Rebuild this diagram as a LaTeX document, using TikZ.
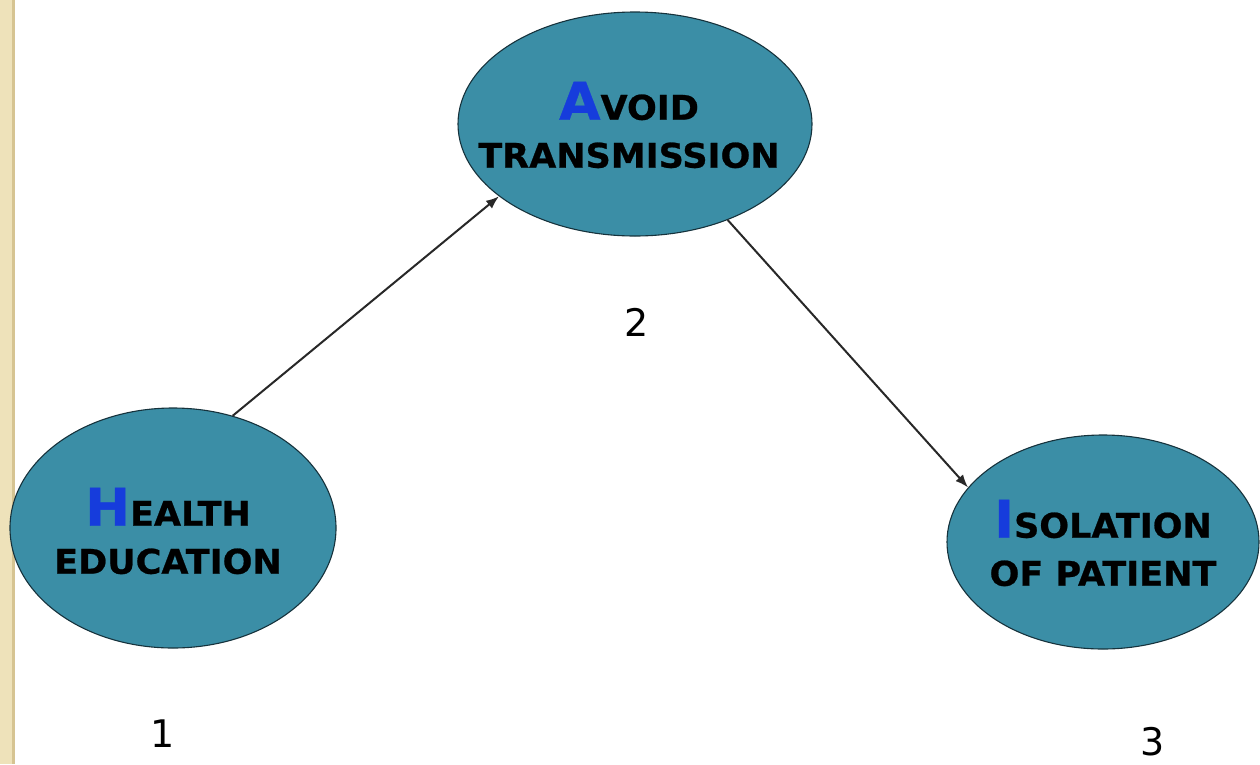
\documentclass[tikz,border=0pt]{standalone}
\usepackage{fontspec}
\usetikzlibrary{shapes.geometric,arrows.meta}
\newfontfamily\diagfont[FakeStretch=1.03,FakeBold=0.7]{DejaVu Sans Bold}
\newfontfamily\numfont{DejaVu Sans}
\definecolor{tealfill}{RGB}{59,142,166}
\definecolor{tealedge}{RGB}{22,50,60}
\definecolor{capblue}{RGB}{22,60,220}
\definecolor{stripfill}{RGB}{238,226,186}
\definecolor{stripedge}{RGB}{214,196,146}
\definecolor{linkgray}{RGB}{40,40,40}
\newcommand{\initialcap}[1]{\textcolor{capblue}{\fontsize{52}{48}\selectfont #1}}
\begin{document}
\begin{tikzpicture}[x=1pt,y=-1pt,
  blob/.style={ellipse,draw=tealedge,line width=1.1pt,fill=tealfill,inner sep=0pt},
  title/.style={font={\diagfont\fontsize{34}{48}\selectfont},align=center,inner sep=0pt,text=black},
  stepnum/.style={font={\numfont\fontsize{38}{40}\selectfont},anchor=base,inner sep=0pt},
  link/.style={draw=linkgray,line width=2pt,-{Latex[length=13pt,width=10pt]}}]
  \useasboundingbox (0,0) rectangle (1260,764);
  % decorative strip along the left edge
  \fill[stripfill] (0,0) rectangle (12,764);
  \fill[stripedge] (12,0) rectangle (15,764);
  % the three stages
  \node[blob,minimum width=354pt,minimum height=224pt] (a) at (635,124) {};
  \node[blob,minimum width=326pt,minimum height=240pt] (h) at (173,528) {};
  \node[blob,minimum width=312pt,minimum height=214pt] (i) at (1103,542) {};
  \node[title] (atext) at (629,125) {\initialcap{A}VOID\\TRANSMISSION};
  \node[title] (htext) at (168,531) {\initialcap{H}EALTH\\EDUCATION};
  \node[title] (itext) at (1103,543) {\initialcap{I}SOLATION\\OF PATIENT};
  % stage numbers
  \node[stepnum] (n1) at (163,747) {1};
  \node[stepnum] (n2) at (637,336) {2};
  \node[stepnum] (n3) at (1153,755) {3};
  % connectors
  \draw[link] (h.62) -- (a.208);
  \draw[link] (a.314) -- (i.158);
\end{tikzpicture}
\end{document}
